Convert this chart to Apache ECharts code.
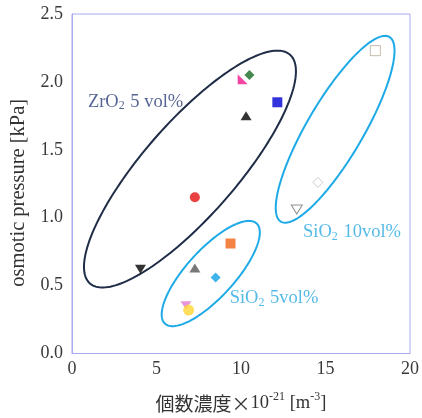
<!DOCTYPE html>
<html><head><meta charset="utf-8">
<script src="https://cdn.jsdelivr.net/npm/echarts@6/dist/echarts.min.js"></script>
<style>html,body{margin:0;padding:0;background:#fff}#c{width:422px;height:418px}</style>
</head><body><div id="c"></div>
<script>
// ---- data ----
// ZrO2 5 vol%
const zrX = [4.05, 7.27, 10.3, 10.1, 10.5, 12.15];
const zrY = [0.62, 1.15, 1.75, 2.02, 2.05, 1.85];
// SiO2 5vol%
const si5X = [9.38, 7.27, 8.5, 6.74, 6.9];
const si5Y = [0.81, 0.63, 0.56, 0.355, 0.32];
// SiO2 10vol%
const si10X = [17.95, 14.55, 13.3];
const si10Y = [2.23, 1.26, 1.06];
const xTicks = [0, 5, 10, 15, 20];
const yTicks = [0.0, 0.5, 1.0, 1.5, 2.0, 2.5];
// group ellipses (data units): centre, semi-axis vectors
const ellipseCenters = [[6.98, 1.358], [8.21, 0.589], [15.57, 1.651]];
const ellipseMajor = [[5.92, 0.842], [2.71, 0.369], [3.21, 0.680]];
const ellipseMinor = [[2.07, -0.227], [1.04, -0.119], [1.43, -0.105]];
const groupLabels = ['ZrO{sub|2} 5 vol%', 'SiO{sub|2} 5vol%', 'SiO{sub|2} 10vol%'];
const labelX = [0.94, 9.33, 13.67];
const labelY = [1.85, 0.406, 0.89];

// ---- styles ----
const NAVY = '#1f2d47', CYAN = '#1eaae6';
const ellipseColors = [NAVY, CYAN, CYAN];
const labelColors = ['#2b3d78', '#2aa9e2', '#2aa9e2'];
const RT = 'path://M0,0 L0,10 L10,10 Z';
const zrStyle = [
  {symbol:'triangle', rot:180, size:[11,9], fill:'#000', stroke:'#000'},
  {symbol:'circle', rot:0, size:10, fill:'#e41010', stroke:'#e41010'},
  {symbol:'triangle', rot:0, size:[11,9], fill:'#000', stroke:'#000'},
  {symbol:RT, rot:0, size:[10,10], fill:'#f0188c', stroke:'#f0188c'},
  {symbol:'diamond', rot:0, size:[10,10], fill:'#166b24', stroke:'#166b24'},
  {symbol:'rect', rot:0, size:10, fill:'#0000d4', stroke:'#0000d4'}
];
const si5Style = [
  {symbol:'rect', rot:0, size:10, fill:'#f06414', stroke:'#f06414'},
  {symbol:'triangle', rot:0, size:[11,9], fill:'#555', stroke:'#555'},
  {symbol:'diamond', rot:0, size:[10,10], fill:'#10a0e4', stroke:'#10a0e4'},
  {symbol:'triangle', rot:180, size:[11,8], fill:'#e07ad2', stroke:'#e07ad2'},
  {symbol:'circle', rot:0, size:11, fill:'#ffd633', stroke:'#ffd633'}
];
const si10Style = [
  {symbol:'rect', rot:0, size:10, fill:'#fff', stroke:'#b5ab98'},
  {symbol:'diamond', rot:0, size:[10,10], fill:'#fff', stroke:'#c4bcbc'},
  {symbol:'triangle', rot:180, size:[11,9], fill:'#fff', stroke:'#777'}
];

const SERIF = "'Liberation Serif','Times New Roman',serif";
const series = [];
for (let i = 0; i < ellipseCenters.length; i++) {
  series.push({
    type: 'custom', z: 1, silent: true, clip: false,
    encode: {x: 0, y: 1},
    data: [[ellipseCenters[i][0], ellipseCenters[i][1], ellipseMajor[i][0], ellipseMajor[i][1], ellipseMinor[i][0], ellipseMinor[i][1]]],
    renderItem: (function (col) {
      return function (params, api) {
        const cx = api.value(0), cy = api.value(1), ax = api.value(2), ay = api.value(3), bx = api.value(4), by = api.value(5);
        const pts = [];
        for (let k = 0; k < 180; k++) {
          const t = k / 180 * 2 * Math.PI;
          pts.push(api.coord([cx + ax * Math.cos(t) + bx * Math.sin(t), cy + ay * Math.cos(t) + by * Math.sin(t)]));
        }
        return {type: 'polygon', shape: {points: pts}, style: {fill: 'none', stroke: col, lineWidth: 2}};
      };
    })(ellipseColors[i])
  });
}
function addPoints(xs, ys, styles) {
  for (let i = 0; i < xs.length; i++) {
    const s = styles[i];
    series.push({
      type: 'scatter', z: 3, silent: true,
      symbol: s.symbol, symbolRotate: s.rot, symbolSize: s.size,
      itemStyle: {color: s.fill, borderColor: s.stroke, borderWidth: s.fill === '#fff' ? 1 : 0},
      data: [[xs[i], ys[i]]]
    });
  }
}
addPoints(zrX, zrY, zrStyle);
addPoints(si5X, si5Y, si5Style);
addPoints(si10X, si10Y, si10Style);
for (let i = 0; i < groupLabels.length; i++) {
  series.push({
    type: 'scatter', z: 4, silent: true, symbolSize: 0,
    data: [[labelX[i], labelY[i]]],
    label: {
      show: true, position: 'right', distance: 0,
      formatter: groupLabels[i],
      color: labelColors[i], fontSize: 18.5, fontFamily: SERIF,
      rich: {sub: {fontSize: 12, fontFamily: SERIF, color: labelColors[i], verticalAlign: 'bottom', padding: [8, 1, 0, 0]}}
    }
  });
}

const chart = echarts.init(document.getElementById('c'), null, {renderer: 'canvas'});
chart.setOption({
  animation: false,
  backgroundColor: '#fff',
  grid: {left: 72, right: 9, top: 14, bottom: 62.5, show: true, borderColor: '#aaaaee', borderWidth: 1},
  xAxis: {
    type: 'value', min: xTicks[0], max: xTicks[xTicks.length - 1], interval: 5,
    axisLine: {show: true, lineStyle: {color: '#aaaaee'}}, axisTick: {show: false}, splitLine: {show: false},
    axisLabel: {color: '#3a3a3a', fontSize: 18, fontFamily: SERIF, margin: 7, formatter: v => String(v)},
    name: '{cjk|個数濃度×}{t|10}{sup|-21}{t| [m}{sup|-3}{t|]}', nameLocation: 'middle', nameGap: 37,
    nameTextStyle: {
      rich: {
        cjk: {fontSize: 19, fontFamily: "'Noto Sans CJK JP',sans-serif", color: '#333', lineHeight: 26},
        t: {fontSize: 18.5, fontFamily: SERIF, color: '#333', lineHeight: 26},
        sup: {fontSize: 12, fontFamily: SERIF, color: '#333', verticalAlign: 'top', lineHeight: 26, padding: [0, 0, 9, 0]}
      }
    }
  },
  yAxis: {
    type: 'value', min: yTicks[0], max: yTicks[yTicks.length - 1], interval: 0.5,
    axisLine: {show: true, lineStyle: {color: '#aaaaee'}}, axisTick: {show: false}, splitLine: {show: false},
    axisLabel: {color: '#3a3a3a', fontSize: 18, fontFamily: SERIF, margin: 9, formatter: v => v.toFixed(1)},
    name: 'osmotic pressure [kPa]', nameLocation: 'middle', nameGap: 41,
    nameTextStyle: {color: '#333', fontSize: 20.5, fontFamily: SERIF, padding: [0, 18, 0, 0]}
  },
  series: series
});
</script></body></html>
